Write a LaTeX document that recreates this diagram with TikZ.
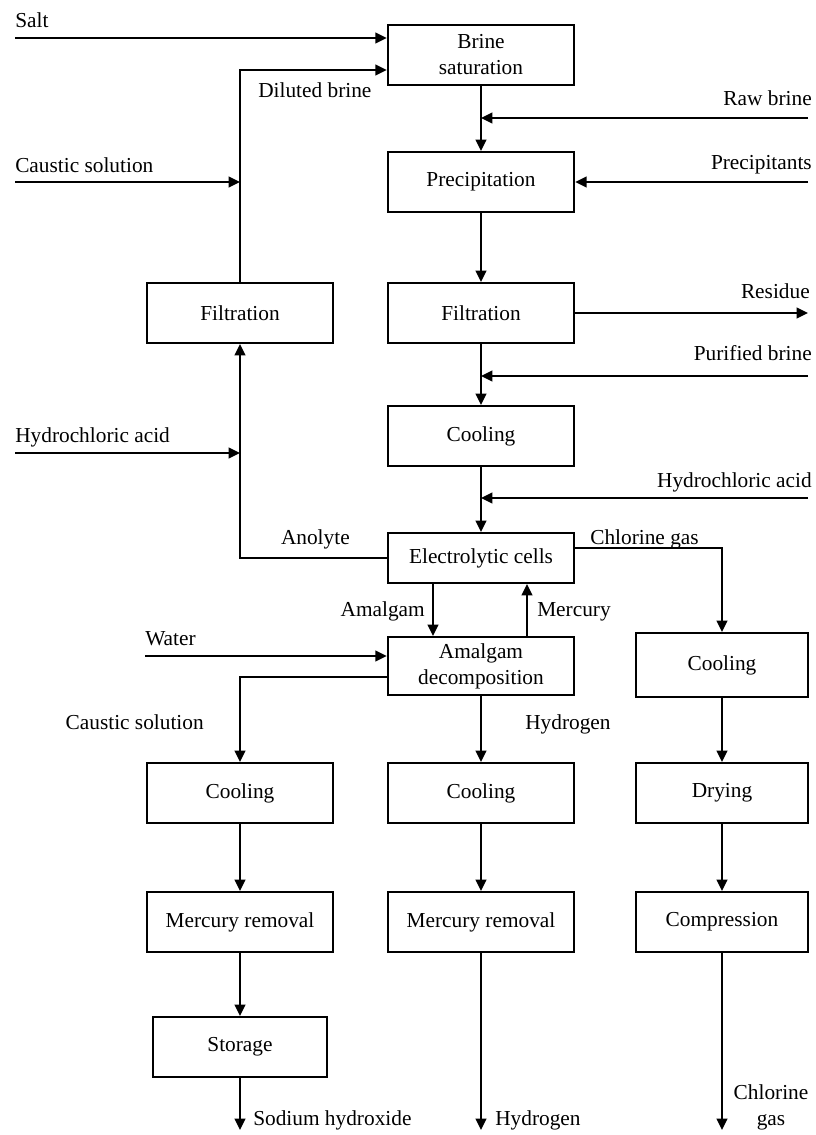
\documentclass[tikz,border=0pt]{standalone}
\usepackage{fontspec}
\setmainfont{Liberation Serif}
\usetikzlibrary{arrows.meta,calc,positioning}

\begin{document}
\begin{tikzpicture}[x=0.75pt,y=-0.75pt,
    font=\fontsize{16}{19.5}\selectfont,
    unit/.style={draw,line width=1.5pt,align=center,minimum width=140pt,minimum height=45pt,inner sep=2pt},
    side/.style={unit,minimum width=129pt},
    flow/.style={line width=1.5pt,-{Triangle[length=8.5pt,width=8pt]}},
    lbl/.style={inner sep=0pt}]
  \useasboundingbox (0,0) rectangle (816,1135);
  % centre column
  \node[unit] (brine) at (481,55) {Brine\\saturation};
  \node[unit] (precip) at (481,182) {Precipitation};
  \node[unit] (filtR) at (481,313) {Filtration};
  \node[unit] (coolA) at (481,436) {Cooling};
  \node[unit,minimum height=37.5pt] (cells) at (481,558) {Electrolytic cells};
  \node[unit,minimum height=43.5pt] (amal) at (481,666) {Amalgam\\decomposition};
  \node[unit] (coolM) at (481,793) {Cooling};
  \node[unit] (hgM) at (481,922) {Mercury removal};
  % left column
  \node[unit] (filtL) at (240,313) {Filtration};
  \node[unit] (coolL) at (240,793) {Cooling};
  \node[unit] (hgL) at (240,922) {Mercury removal};
  \node[unit,minimum width=130.5pt] (store) at (240,1047) {Storage};
  % right column
  \node[side,minimum height=48pt] (coolC) at (722,665) {Cooling};
  \node[side] (dry) at (722,793) {Drying};
  \node[side] (comp) at (722,922) {Compression};

  % free ends
  \coordinate (salt) at (15,38);
  \coordinate (caus) at (15,182);
  \coordinate (hclL) at (15,453);
  \coordinate (water) at (145,656);
  \coordinate (raw) at (808,118);
  \coordinate (prec) at (808,182);
  \coordinate (resid) at (808,313);
  \coordinate (pure) at (808,376);
  \coordinate (hclR) at (808,498);
  \coordinate (naoh) at (240,1130);
  \coordinate (hyd) at (481,1130);
  \coordinate (cl) at (722,1130);

  % feeds
  \draw[flow] (salt) -- (salt -| brine.west);
  \draw[flow] (filtL.north) |- ($(brine.west)+(0,15)$);
  \draw[flow] (caus) -- (caus -| filtL.north);
  \draw[flow] (hclL) -- (hclL -| filtL.south);
  \draw[flow] (raw) -- (raw -| brine.south);
  \draw[flow] (prec) -- (precip.east);
  \draw[flow] (pure) -- (pure -| filtR.south);
  \draw[flow] (hclR) -- (hclR -| coolA.south);
  \draw[flow] (water) -- (water -| amal.west);

  % main line
  \draw[flow] (brine) -- (precip);
  \draw[flow] (precip) -- (filtR);
  \draw[flow] (filtR.east) -- (resid);
  \draw[flow] (filtR) -- (coolA);
  \draw[flow] (coolA) -- (cells);
  \draw[flow] (cells.west) -| (filtL.south);
  \draw[flow] ($(cells.east)+(0,-10)$) -| (coolC.north);
  \draw[flow] ($(cells.south)+(-48,0)$) -- ($(amal.north)+(-48,0)$);
  \draw[flow] ($(amal.north)+(46,0)$) -- ($(cells.south)+(46,0)$);
  \draw[flow] ($(amal.west)+(0,11)$) -| (coolL.north);
  \draw[flow] (amal) -- (coolM);

  % product lines
  \draw[flow] (coolL) -- (hgL);
  \draw[flow] (hgL) -- (store);
  \draw[flow] (store) -- (naoh);
  \draw[flow] (coolM) -- (hgM);
  \draw[flow] (hgM) -- (hyd);
  \draw[flow] (coolC) -- (dry);
  \draw[flow] (dry) -- (comp);
  \draw[flow] (comp) -- (cl);

  % stream labels
  \node[lbl,anchor=base west] (lsalt) at (15,27) {Salt};
  \node[lbl,anchor=base west] (lcaus) at (15,172) {Caustic solution};
  \node[lbl,anchor=base west] (lhclL) at (15,442) {Hydrochloric acid};
  \node[lbl,anchor=base west] (lwater) at (145,645) {Water};
  \node[lbl,anchor=base west] (ldil) at (258,97) {Diluted brine};
  \node[lbl,anchor=base east] (lraw) at (812,105) {Raw brine};
  \node[lbl,anchor=base east] (lprec) at (812,169) {Precipitants};
  \node[lbl,anchor=base east] (lresid) at (810,298) {Residue};
  \node[lbl,anchor=base east] (lpure) at (812,360) {Purified brine};
  \node[lbl,anchor=base east] (lhclR) at (812,487) {Hydrochloric acid};
  \node[lbl,anchor=base east] (lanol) at (350,544) {Anolyte};
  \node[lbl,anchor=base west] (lchl) at (590,544) {Chlorine gas};
  \node[lbl,anchor=base east] (lamal) at (425,616) {Amalgam};
  \node[lbl,anchor=base west] (lmerc) at (537,616) {Mercury};
  \node[lbl,anchor=base east] (lcaus2) at (204,729) {Caustic solution};
  \node[lbl,anchor=base west] (lhyd) at (525,729) {Hydrogen};
  \node[lbl,anchor=base west] (lnaoh) at (253,1125) {Sodium hydroxide};
  \node[lbl,anchor=base west] (lhyd2) at (495,1125) {Hydrogen};
  \node[lbl,anchor=base,align=center] (lcl) at (771,1125) {Chlorine\\gas};
\end{tikzpicture}
\end{document}
